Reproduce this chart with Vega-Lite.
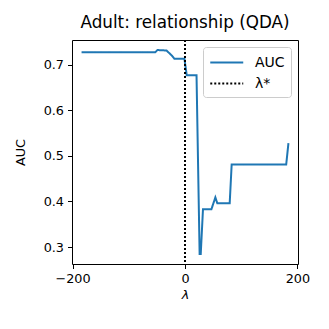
{
  "$schema": "https://vega.github.io/schema/vega-lite/v6.json",
  "width": 226,
  "height": 224,
  "autosize": {"type": "none"},
  "padding": {"left": 72, "top": 40, "right": 31, "bottom": 65},
  "background": "white",
  "datasets": {
    "auc": [
      {"lambda": -184, "auc": 0.727, "series": "AUC"},
      {"lambda": -53, "auc": 0.727, "series": "AUC"},
      {"lambda": -49, "auc": 0.732, "series": "AUC"},
      {"lambda": -33, "auc": 0.731, "series": "AUC"},
      {"lambda": -23.5, "auc": 0.72, "series": "AUC"},
      {"lambda": -19, "auc": 0.713, "series": "AUC"},
      {"lambda": -1, "auc": 0.713, "series": "AUC"},
      {"lambda": 3, "auc": 0.677, "series": "AUC"},
      {"lambda": 20.5, "auc": 0.677, "series": "AUC"},
      {"lambda": 26, "auc": 0.285, "series": "AUC"},
      {"lambda": 28, "auc": 0.285, "series": "AUC"},
      {"lambda": 32, "auc": 0.383, "series": "AUC"},
      {"lambda": 47, "auc": 0.383, "series": "AUC"},
      {"lambda": 54, "auc": 0.409, "series": "AUC"},
      {"lambda": 57.5, "auc": 0.396, "series": "AUC"},
      {"lambda": 79.5, "auc": 0.396, "series": "AUC"},
      {"lambda": 83, "auc": 0.481, "series": "AUC"},
      {"lambda": 180, "auc": 0.481, "series": "AUC"},
      {"lambda": 184, "auc": 0.528, "series": "AUC"}
    ]
  },
  "config": {
    "font": "DejaVu Sans",
    "view": {"stroke": null},
    "axis": {
      "grid": false,
      "domainColor": "black",
      "tickColor": "black",
      "tickSize": 4.5,
      "labelFontSize": 12.8,
      "labelColor": "black",
      "labelFlush": false,
      "titleFontSize": 12.8,
      "titleFontWeight": "normal",
      "titleColor": "black",
      "labelPadding": 4
    }
  },
  "title": {"text": "Adult: relationship (QDA)", "fontSize": 16.8, "fontWeight": "normal", "font": "DejaVu Sans", "offset": 7, "color": "black"},
  "resolve": {"axis": {"x": "independent", "y": "independent"}},
  "layer": [
    {
      "data": {"name": "auc"},
      "mark": {"type": "line", "strokeWidth": 2},
      "encoding": {
        "x": {"field": "lambda", "type": "quantitative", "scale": {"domain": [-201, 201], "nice": false, "zero": false},
              "axis": {"values": [-200, 0, 200], "title": "λ", "titleFontStyle": "italic", "titlePadding": 3}},
        "y": {"field": "auc", "type": "quantitative", "scale": {"domain": [0.263, 0.754], "nice": false, "zero": false},
              "axis": {"values": [0.3, 0.4, 0.5, 0.6, 0.7], "format": ".1f", "title": "AUC", "titleX": -45, "titleY": 112, "titleAngle": 270, "titleBaseline": "bottom", "titleAlign": "center"}},
        "color": {"field": "series", "type": "nominal", "scale": {"domain": ["AUC", "λ*"], "range": ["#1f77b4", "black"]},
                  "legend": {"title": null, "orient": "top-right", "offset": 7, "symbolType": "M-1,0H3", "symbolSize": 272, "symbolStrokeWidth": 2, "labelFontSize": 14, "labelColor": "black", "labelOffset": 27, "fillColor": "white", "strokeColor": "#cccccc", "cornerRadius": 3, "padding": 6, "rowPadding": 4}},
        "strokeDash": {"field": "series", "type": "nominal", "scale": {"domain": ["AUC", "λ*"], "range": [[1, 0], [2, 2]]},
                       "legend": {"title": null, "orient": "top-right", "offset": 7, "symbolType": "M-1,0H3", "symbolSize": 272, "symbolStrokeWidth": 2, "labelFontSize": 14, "labelColor": "black", "labelOffset": 27, "fillColor": "white", "strokeColor": "#cccccc", "cornerRadius": 3, "padding": 6, "rowPadding": 4}}
      }
    },
    {
      "data": {"name": "auc"},
      "mark": {"type": "point", "opacity": 0},
      "encoding": {
        "x": {"field": "lambda", "type": "quantitative", "axis": {"orient": "top", "labels": false, "ticks": false, "title": null}},
        "y": {"field": "auc", "type": "quantitative", "axis": {"orient": "right", "labels": false, "ticks": false, "title": null}}
      }
    },
    {
      "data": {"values": [{"lambda": 0, "series": "λ*"}]},
      "mark": {"type": "rule", "strokeWidth": 2},
      "encoding": {
        "x": {"field": "lambda", "type": "quantitative", "axis": null},
        "color": {"field": "series", "type": "nominal"},
        "strokeDash": {"field": "series", "type": "nominal"}
      }
    }
  ]
}
